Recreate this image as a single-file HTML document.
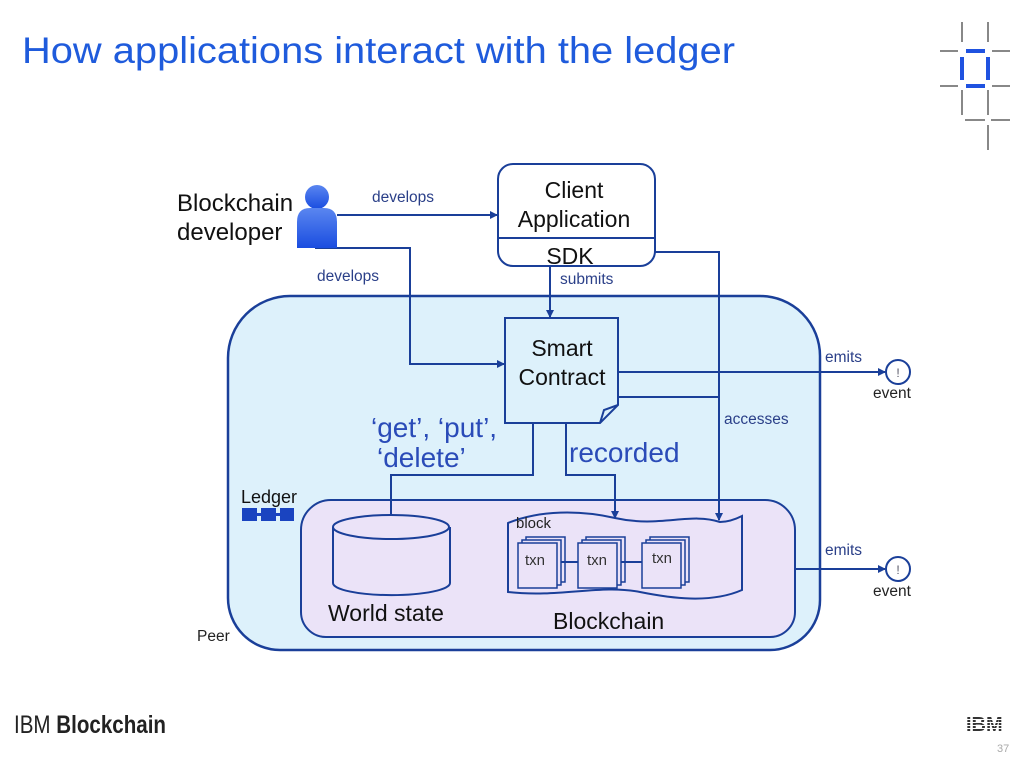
<!DOCTYPE html>
<html><head><meta charset="utf-8"><style>
body{margin:0;background:#fff;width:1024px;height:768px;overflow:hidden;font-family:"Liberation Sans",sans-serif}
</style></head><body>
<svg width="1024" height="768" xmlns="http://www.w3.org/2000/svg" font-family="Liberation Sans, sans-serif">
<defs>
<linearGradient id="pg" x1="0" y1="0" x2="0" y2="1"><stop offset="0" stop-color="#5a86f0"/><stop offset="1" stop-color="#1a4de0"/></linearGradient>
<marker id="a" markerWidth="4" markerHeight="4" refX="3.5" refY="2" orient="auto" markerUnits="strokeWidth"><path d="M0,0 L4,2 L0,4z" fill="#1a3f99"/></marker>
<clipPath id="ibm"><text x="966" y="731" font-size="20" font-weight="bold">IBM</text></clipPath>
</defs>
<text x="22" y="63" font-size="37" fill="#1f5bdc" textLength="713" lengthAdjust="spacingAndGlyphs">How applications interact with the ledger</text>
<g stroke="#888" stroke-width="2">
<line x1="962" y1="22" x2="962" y2="42"/><line x1="988" y1="22" x2="988" y2="42"/>
<line x1="940" y1="51" x2="958" y2="51"/><line x1="992" y1="51" x2="1010" y2="51"/>
<line x1="940" y1="86" x2="958" y2="86"/><line x1="992" y1="86" x2="1010" y2="86"/>
<line x1="962" y1="90" x2="962" y2="115"/><line x1="988" y1="90" x2="988" y2="115"/>
<line x1="965" y1="120" x2="985" y2="120"/><line x1="991" y1="120" x2="1010" y2="120"/>
<line x1="988" y1="125" x2="988" y2="150"/></g>
<g stroke="#1f52e0" stroke-width="4"><line x1="966" y1="51" x2="985" y2="51"/><line x1="966" y1="86" x2="985" y2="86"/><line x1="962" y1="57" x2="962" y2="80"/><line x1="988" y1="57" x2="988" y2="80"/></g>

<path d="M290,296 H760 A60,60 0 0 1 820,356 V600 A50,50 0 0 1 770,650 H280 A52,52 0 0 1 228,598 V358 A62,62 0 0 1 290,296Z" fill="#ddf1fb" stroke="#1a3f99" stroke-width="2.5"/>
<path d="M332,500 H765 A30,30 0 0 1 795,530 V612 A25,25 0 0 1 770,637 H326 A25,25 0 0 1 301,612 V530 A30,30 0 0 1 332,500Z" fill="#ebe3f8" stroke="#1a3f99" stroke-width="2"/>

<g fill="none" stroke="#1a3f99" stroke-width="2">
<line x1="337" y1="215" x2="497" y2="215" marker-end="url(#a)"/>
<polyline points="315,248 410,248 410,364 504,364" marker-end="url(#a)"/>
<line x1="550" y1="266" x2="550" y2="317" marker-end="url(#a)"/>
<polyline points="655,252 719,252 719,520" marker-end="url(#a)"/>
<line x1="618" y1="372" x2="885" y2="372" marker-end="url(#a)"/>
<line x1="618" y1="397" x2="719" y2="397"/>
<polyline points="533,423 533,475 391,475 391,540" marker-end="url(#a)"/>
<polyline points="566,423 566,475 615,475 615,518" marker-end="url(#a)"/>
<line x1="795" y1="569" x2="885" y2="569" marker-end="url(#a)"/>
<circle cx="898" cy="372" r="12"/><circle cx="898" cy="569" r="12"/>
</g>
<text x="898" y="377" font-size="12" fill="#556" text-anchor="middle">!</text>
<text x="898" y="574" font-size="12" fill="#556" text-anchor="middle">!</text>

<rect x="498" y="164" width="157" height="102" rx="15" fill="#fff" stroke="#1a3f99" stroke-width="2"/>
<line x1="498" y1="238" x2="655" y2="238" stroke="#1a3f99" stroke-width="2"/>
<g font-size="23" fill="#111" text-anchor="middle">
<text x="574" y="198">Client</text><text x="574" y="227">Application</text><text x="570" y="264">SDK</text></g>

<path d="M505,318 H618 V405 L600,423 H505Z" fill="#ddf1fb" stroke="#1a3f99" stroke-width="2"/>
<path d="M600,423 L604,410 L618,405" fill="none" stroke="#1a3f99" stroke-width="2"/>
<g font-size="23" fill="#111" text-anchor="middle"><text x="562" y="356">Smart</text><text x="562" y="385">Contract</text></g>

<circle cx="317" cy="197" r="12" fill="url(#pg)"/>
<path d="M297,248 V222 Q297,208 310,208 H324 Q337,208 337,222 V248Z" fill="url(#pg)"/>

<g font-size="15.5" fill="#2a3f88">
<text x="372" y="202">develops</text><text x="317" y="281">develops</text><text x="560" y="284">submits</text>
<text x="825" y="362">emits</text><text x="724" y="424">accesses</text><text x="825" y="555">emits</text></g>
<g font-size="15.5" fill="#222"><text x="873" y="398">event</text><text x="873" y="596">event</text><text x="197" y="641">Peer</text></g>
<g font-size="24" fill="#111"><text x="177" y="211">Blockchain</text><text x="177" y="240">developer</text></g>
<g font-size="28" fill="#2a4bb8"><text x="371" y="437">‘get’, ‘put’,</text><text x="377" y="467">‘delete’</text><text x="569" y="462">recorded</text></g>

<text x="241" y="503" font-size="18" fill="#111">Ledger</text>
<g fill="#1a44c0"><rect x="242" y="508" width="15" height="13"/><rect x="261" y="508" width="15" height="13"/><rect x="280" y="508" width="14" height="13"/><rect x="255" y="513" width="8" height="3"/><rect x="274" y="513" width="8" height="3"/></g>

<g fill="#ebe3f8" stroke="#1a3f99" stroke-width="2">
<path d="M333,527 V583 A58,12 0 0 0 450,583 V527"/>
<ellipse cx="391" cy="527" rx="58" ry="12"/></g>
<text x="328" y="621" font-size="23" fill="#111">World state</text>

<path d="M508,523 C540,510 580,510 615,518 C660,528 690,512 720,522 C730,522 738,518 742,516 V590 C710,604 670,598 640,592 C600,584 560,598 508,592Z" fill="#ebe3f8" stroke="#1a3f99" stroke-width="2"/>
<text x="516" y="528" font-size="15" fill="#222">block</text>
<g fill="#ebe3f8" stroke="#1a3f99" stroke-width="1.5">
<rect x="526" y="537" width="39" height="45"/><rect x="522" y="540" width="39" height="45"/><rect x="518" y="543" width="39" height="45"/>
<rect x="586" y="537" width="39" height="45"/><rect x="582" y="540" width="39" height="45"/><rect x="578" y="543" width="39" height="45"/>
<rect x="650" y="537" width="39" height="45"/><rect x="646" y="540" width="39" height="45"/><rect x="642" y="543" width="39" height="45"/>
</g>
<line x1="561" y1="562" x2="578" y2="562" stroke="#1a3f99" stroke-width="2"/><line x1="621" y1="562" x2="642" y2="562" stroke="#1a3f99" stroke-width="2"/>
<g font-size="15" fill="#333"><text x="525" y="565">txn</text><text x="587" y="565">txn</text><text x="652" y="563">txn</text></g>
<text x="553" y="629" font-size="23" fill="#111">Blockchain</text>

<text x="14" y="733" font-size="25" fill="#222" textLength="152" lengthAdjust="spacingAndGlyphs"><tspan>IBM </tspan><tspan font-weight="bold">Blockchain</tspan></text>
<g clip-path="url(#ibm)" fill="#333"><rect x="964" y="711" width="45" height="2"/><rect x="964" y="714" width="45" height="2"/><rect x="964" y="717" width="45" height="2"/><rect x="964" y="720" width="45" height="2"/><rect x="964" y="723" width="45" height="2"/><rect x="964" y="726" width="45" height="2"/><rect x="964" y="729" width="45" height="2"/></g>
<text x="997" y="752" font-size="11" fill="#aaa">37</text>
</svg>
</body></html>
